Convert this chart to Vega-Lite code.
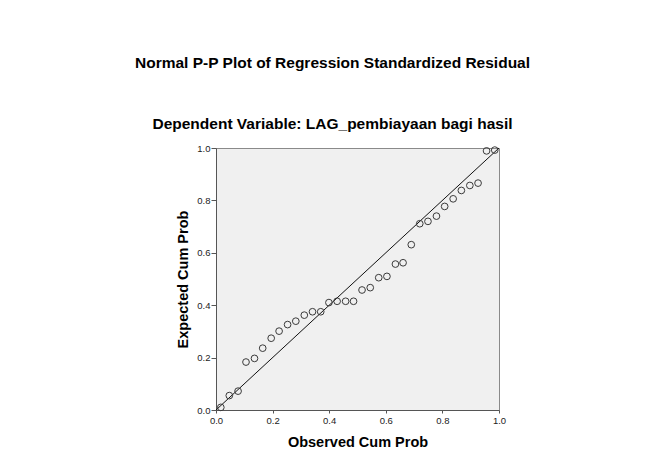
{
  "$schema": "https://vega.github.io/schema/vega-lite/v6.json",
  "width": 283,
  "height": 262,
  "autosize": {"type": "none"},
  "padding": {"left": 216, "top": 148, "right": 151, "bottom": 50},
  "background": "white",
  "title": {
    "text": "Normal P-P Plot of Regression Standardized Residual",
    "subtitle": "Dependent Variable: LAG_pembiayaan bagi hasil",
    "anchor": "middle",
    "dx": -25,
    "offset": 10.5,
    "subtitlePadding": 45.5,
    "font": "Liberation Sans",
    "fontSize": 15.5,
    "fontWeight": "bold",
    "color": "#000000",
    "subtitleFont": "Liberation Sans",
    "subtitleFontSize": 15.5,
    "subtitleFontWeight": "bold",
    "subtitleColor": "#000000"
  },
  "config": {
    "view": {"fill": "#f0f0f0", "stroke": "#8a8a8a", "strokeWidth": 1},
    "axis": {
      "grid": false,
      "domainColor": "#555555",
      "tickColor": "#555555",
      "labelFont": "Liberation Sans",
      "labelFontSize": 9.5,
      "labelColor": "#222222",
      "labelFlush": false,
      "titleFont": "Liberation Sans",
      "titleFontSize": 14.5,
      "titleFontWeight": "bold",
      "titleColor": "#000000"
    }
  },
  "datasets": {
    "pp": [
      {"observed": 0.017, "expected": 0.010},
      {"observed": 0.047, "expected": 0.055},
      {"observed": 0.078, "expected": 0.072},
      {"observed": 0.106, "expected": 0.183},
      {"observed": 0.136, "expected": 0.197},
      {"observed": 0.165, "expected": 0.236},
      {"observed": 0.195, "expected": 0.274},
      {"observed": 0.223, "expected": 0.301},
      {"observed": 0.253, "expected": 0.326},
      {"observed": 0.282, "expected": 0.339},
      {"observed": 0.312, "expected": 0.362},
      {"observed": 0.341, "expected": 0.375},
      {"observed": 0.370, "expected": 0.375},
      {"observed": 0.399, "expected": 0.410},
      {"observed": 0.428, "expected": 0.415},
      {"observed": 0.458, "expected": 0.415},
      {"observed": 0.486, "expected": 0.415},
      {"observed": 0.516, "expected": 0.458},
      {"observed": 0.545, "expected": 0.467},
      {"observed": 0.575, "expected": 0.505},
      {"observed": 0.604, "expected": 0.510},
      {"observed": 0.634, "expected": 0.557},
      {"observed": 0.661, "expected": 0.562},
      {"observed": 0.690, "expected": 0.631},
      {"observed": 0.720, "expected": 0.711},
      {"observed": 0.749, "expected": 0.720},
      {"observed": 0.779, "expected": 0.740},
      {"observed": 0.808, "expected": 0.777},
      {"observed": 0.838, "expected": 0.806},
      {"observed": 0.867, "expected": 0.838},
      {"observed": 0.897, "expected": 0.857},
      {"observed": 0.926, "expected": 0.866},
      {"observed": 0.956, "expected": 0.989},
      {"observed": 0.985, "expected": 0.992}
    ],
    "diag": [
      {"observed": 0, "expected": 0},
      {"observed": 1, "expected": 1}
    ]
  },
  "layer": [
    {
      "data": {"name": "diag"},
      "mark": {"type": "line", "color": "#111111", "strokeWidth": 1},
      "encoding": {
        "x": {"field": "observed", "type": "quantitative"},
        "y": {"field": "expected", "type": "quantitative"}
      }
    },
    {
      "data": {"name": "pp"},
      "mark": {"type": "point", "filled": false, "stroke": "#3a3a3a", "strokeWidth": 1, "size": 45, "opacity": 1},
      "encoding": {
        "x": {
          "field": "observed",
          "type": "quantitative",
          "title": "Observed Cum Prob",
          "scale": {"domain": [0, 1], "nice": false, "zero": true},
          "axis": {"values": [0, 0.2, 0.4, 0.6, 0.8, 1.0], "format": ".1f", "tickSize": 3, "labelPadding": 2, "titlePadding": 11}
        },
        "y": {
          "field": "expected",
          "type": "quantitative",
          "title": "Expected Cum Prob",
          "scale": {"domain": [0, 1], "nice": false, "zero": true},
          "axis": {"values": [0, 0.2, 0.4, 0.6, 0.8, 1.0], "format": ".1f", "tickSize": 5, "labelPadding": 1, "titlePadding": 6}
        }
      }
    }
  ]
}
